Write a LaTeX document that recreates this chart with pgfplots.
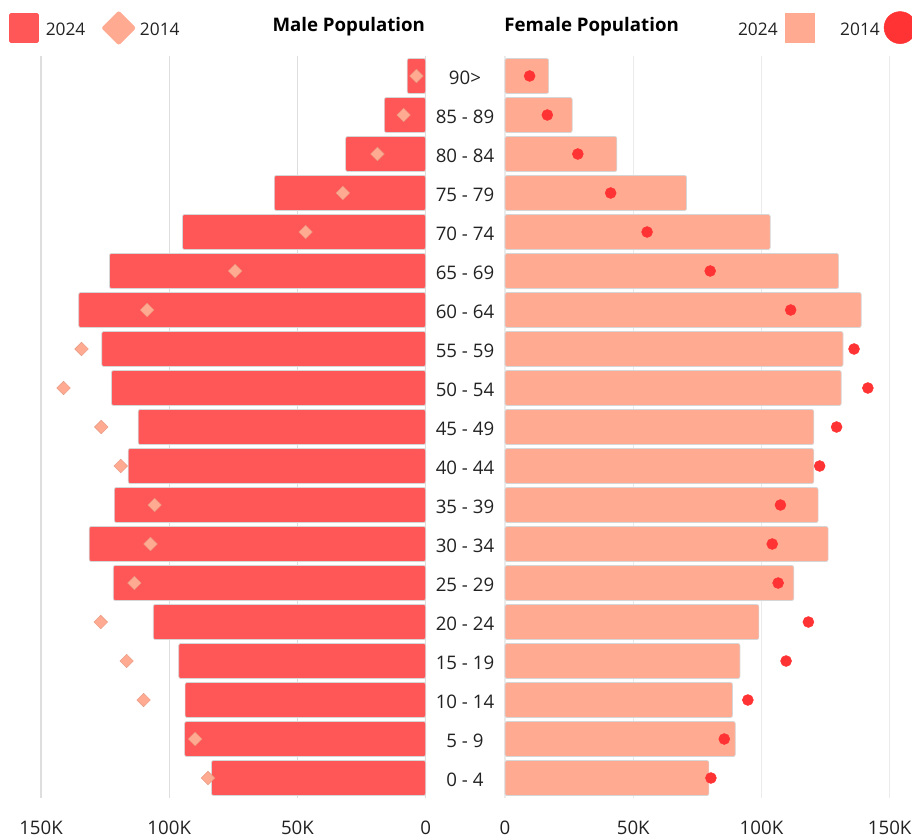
\documentclass[border=0pt]{standalone}
\usepackage{fontspec}
\setmainfont{Open Sans}
\usepackage{pgfplots}
\pgfplotsset{compat=1.18}
\usepackage{pgfplotstable}

\definecolor{male24}{HTML}{FF5757}
\definecolor{male14}{HTML}{FFAA91}
\definecolor{female24}{HTML}{FFAA91}
\definecolor{female14}{HTML}{FF3333}
\definecolor{labelgray}{HTML}{222222}

% population by age group, thousands (row 0 = oldest group)
\pgfplotstableread{
idx m24   m14   f24   f14
0   7.2   3.6   17.0  9.6
1   16.1  8.6   26.2  16.5
2   31.2  18.8  43.6  28.4
3   59.0  32.3  70.8  41.2
4   94.8  46.8  103.4 55.4
5   123.3 74.3  130.1 80.0
6   135.3 108.6 138.9 111.4
7   126.3 134.2 131.8 136.1
8   122.5 141.2 131.1 141.5
9   112.1 126.5 120.4 129.3
10  116.0 118.9 120.4 122.7
11  121.4 105.7 122.1 107.4
12  131.2 107.3 126.0 104.2
13  121.8 113.6 112.6 106.5
14  106.2 126.7 99.0  118.3
15  96.3  116.6 91.6  109.6
16  93.8  110.0 88.7  94.7
17  94.0  89.9  89.8  85.5
18  83.5  84.9  79.5  80.3
}\pop

\pgfplotsset{
  every axis title shift=0pt,
  pyr/.style={
    scale only axis, width=288.5pt, height=555.75pt,
    xmin=0, xmax=150, ymin=-0.5, ymax=18.5, y dir=reverse,
    axis line style={draw=none}, major tick length=0pt,
    xtick={0,50,100,150}, xticklabels={0,50K,100K,150K},
    xticklabel style={font=\fontsize{14}{16}\selectfont, text=labelgray, anchor=base, yshift=-27.4pt},
    xmajorgrids, clip=false,
    title style={font=\fontsize{14}{16}\selectfont\bfseries, text=black, anchor=base},
  },
  barstyle/.style={xbar, bar width=26.25pt, draw=black!16, line width=0.5pt, rounded corners=1.5pt},
}

\begin{document}
\begin{tikzpicture}
\path[use as bounding box] (0,0) rectangle (684pt,627.75pt);

% male side
\begin{axis}[pyr, at={(30.75pt,29.625pt)}, anchor=south west, x dir=reverse,
  major grid style={color=black!13, line width=0.9pt},
  extra x ticks={100,150}, extra x tick labels={},
  extra x tick style={grid style={color=black!24, line width=1.1pt}},
  ytick=\empty,
  title={Male Population},
  title style={at={(axis description cs:0.800,1.0335)}},
  legend columns=-1,
  legend style={draw=none, fill=none, inner sep=0pt,
    at={(axis description cs:-0.0833,1.0385)}, anchor=west,
    nodes={inner sep=0pt, font=\fontsize{13}{15}\selectfont, text=labelgray},
    /tikz/column 1/.style={column sep=5.25pt}, /tikz/column 2/.style={column sep=12pt},
    /tikz/column 3/.style={column sep=3pt}},
]
\addplot[barstyle, fill=male24, forget plot] table[x=m24, y=idx] {\pop};
\addplot[only marks, mark=square*, mark size=3.6pt,
  mark options={rotate=45, fill=male14, draw=male14!90!black, line width=0.3pt}, forget plot]
  table[x=m14, y=idx] {\pop};
\addlegendimage{legend image code/.code={
  \fill[male24, rounded corners=1pt] (0pt,-9.25pt) rectangle (21.75pt,12.5pt);}}
\addlegendentry{2024}
\addlegendimage{legend image code/.code={
  \fill[male14, rounded corners=1.5pt] (0pt,1.65pt) -- (12.75pt,14.4pt) -- (25.5pt,1.65pt) -- (12.75pt,-11.1pt) -- cycle;}}
\addlegendentry{2014}
\end{axis}

% female side
\begin{axis}[pyr, at={(378.75pt,29.625pt)}, anchor=south west,
  major grid style={color=black!8, line width=0.9pt},
  extra x ticks={150}, extra x tick labels={},
  extra x tick style={grid style={color=black!14, line width=1.1pt}},
  ytick={0,...,18},
  yticklabels={90>, 85 - 89, 80 - 84, 75 - 79, 70 - 74, 65 - 69, 60 - 64, 55 - 59, 50 - 54,
    45 - 49, 40 - 44, 35 - 39, 30 - 34, 25 - 29, 20 - 24, 15 - 19, 10 - 14, 5 - 9, 0 - 4},
  yticklabel style={anchor=center, xshift=-30pt, yshift=-1.5pt,
    font=\fontsize{14}{16}\selectfont, text=labelgray},
  title={Female Population},
  title style={at={(axis description cs:0.2252,1.0335)}},
  legend columns=-1, legend plot pos=right,
  legend style={draw=none, fill=none, inner sep=0pt,
    at={(axis description cs:1.0701,1.039)}, anchor=east,
    nodes={inner sep=0pt, font=\fontsize{13}{15}\selectfont, text=labelgray},
    /tikz/column 1/.style={column sep=5.25pt}, /tikz/column 2/.style={column sep=19.5pt},
    /tikz/column 3/.style={column sep=3pt}},
]
\addplot[barstyle, fill=female24, forget plot] table[x=f24, y=idx] {\pop};
\addplot[only marks, mark=*, mark size=4.1pt,
  mark options={fill=female14, draw=female14}, forget plot]
  table[x=f14, y=idx] {\pop};
\addlegendimage{legend image code/.code={
  \fill[female24] (0pt,-9.25pt) rectangle (21.75pt,12.5pt);}}
\addlegendentry{2024}
\addlegendimage{legend image code/.code={
  \fill[female14] (12pt,1.65pt) circle[radius=12pt];}}
\addlegendentry{2014}
\end{axis}
\end{tikzpicture}
\end{document}
